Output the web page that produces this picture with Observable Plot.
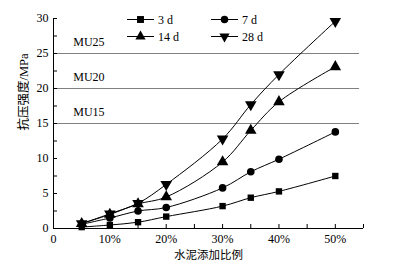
<!DOCTYPE html>
<html><head><meta charset="utf-8">
<script src="https://cdn.jsdelivr.net/npm/d3@7"></script>
<script src="https://cdn.jsdelivr.net/npm/@observablehq/plot@0.6"></script>
<style>
body{margin:0;background:#fff;}
#wrap{position:relative;width:393px;height:268px;}
</style>
</head><body><div id="wrap"></div>
<script>
const ratios = [5, 10, 15, 20, 30, 35, 40, 50];
const s3d  = [0.2, 0.5, 0.9, 1.7, 3.2, 4.4, 5.3, 7.5];
const s7d  = [0.6, 1.5, 2.5, 3.0, 5.8, 8.1, 9.9, 13.8];
const s14d = [0.7, 2.0, 3.5, 4.5, 9.5, 14.0, 18.1, 23.1];
const s28d = [0.7, 2.1, 3.6, 6.3, 12.8, 17.7, 22.0, 29.6];
const seriesNames = ["3 d", "7 d", "14 d", "28 d"];
const seriesSymbols = ["square", "circle", "triangle", "triangle-down"];
const refValues = [25, 20, 15];
const refLabels = ["MU25", "MU20", "MU15"];
const xTicks = [0, 10, 20, 30, 40, 50];
const xMinor = [5, 15, 25, 35, 45, 55];
const yTicks = [0, 5, 10, 15, 20, 25, 30];
const yMinor = [2.5, 7.5, 12.5, 17.5, 22.5, 27.5];
const xTitle = "水泥添加比例";
const yTitle = "抗压强度/MPa";

const allSeries = [s3d, s7d, s14d, s28d];
const data = allSeries.flatMap((arr, i) => arr.map((v, j) => ({x: ratios[j], y: v, s: seriesNames[i], sym: seriesSymbols[i]})));
const refs = refValues.map((v, i) => ({v, label: refLabels[i]}));

const serif = "'Liberation Serif','Times New Roman','Noto Sans CJK SC',serif";
const black = "#000";
const W = 393, H = 268, ML = 53, MR = 30, MT = 18, MB = 40;
const plotW = W - ML - MR, plotH = H - MT - MB, tickLen = 4;

const marks = [
  Plot.ruleY(refs, {y: "v", x1: 0, x2: 54.3, stroke: "#808080", strokeWidth: 1}),
  Plot.text(refs, {y: "v", x: 3.5, text: "label", dy: -11, textAnchor: "start", fontFamily: serif, fontSize: 12, fill: black}),
  Plot.ruleX([0], {stroke: black}),
  Plot.ruleY([0], {stroke: black}),
  Plot.tickX(xTicks.concat(xMinor), {x: d => d, insetTop: plotH - tickLen, stroke: black}),
  Plot.tickY(yTicks.concat(yMinor), {y: d => d, insetRight: plotW - tickLen, stroke: black}),
  Plot.text([xTitle], {text: d => d, frameAnchor: "bottom", dy: 30, fontFamily: "'Noto Sans CJK SC',sans-serif", fontSize: 11.5, fill: black}),
  Plot.text([yTitle], {text: d => d, frameAnchor: "left", dx: -30, dy: 7, rotate: -90, fontFamily: "'Liberation Serif','Noto Sans CJK SC',serif", fontSize: 12.5, fill: black}),
];
for (const name of seriesNames) {
  const sub = data.filter(d => d.s === name);
  marks.push(Plot.line(sub, {x: "x", y: "y", curve: "catmull-rom", stroke: black, strokeWidth: 1}));
}
for (let i = 0; i < seriesNames.length; i++) {
  const sub = data.filter(d => d.s === seriesNames[i]);
  const sym = seriesSymbols[i];
  if (sym === "triangle-down") {
    marks.push(Plot.dot(sub, {x: "x", y: "y", symbol: "triangle", rotate: 180, r: 4.3, fill: black, stroke: "none"}));
  } else if (sym === "triangle") {
    marks.push(Plot.dot(sub, {x: "x", y: "y", symbol: "triangle", r: 4.3, fill: black, stroke: "none"}));
  } else if (sym === "square") {
    marks.push(Plot.dot(sub, {x: "x", y: "y", symbol: "square", r: 3.6, fill: black, stroke: "none"}));
  } else {
    marks.push(Plot.dot(sub, {x: "x", y: "y", symbol: "circle", r: 3.8, fill: black, stroke: "none"}));
  }
}

const chart = Plot.plot({
  width: W, height: H,
  marginLeft: ML, marginRight: MR, marginTop: MT, marginBottom: MB,
  style: {fontFamily: serif, fontSize: "12px", color: black, background: "#fff"},
  x: {type: "linear", domain: [0, 55], ticks: xTicks, tickFormat: d => d === 0 ? "0" : d + "%", tickSize: 0, tickPadding: 6, label: null},
  y: {type: "linear", domain: [0, 30], ticks: yTicks, tickSize: 0, tickPadding: 5, label: null},
  marks
});
const wrap = document.getElementById("wrap");
wrap.appendChild(chart);

// Legend overlay
const leg = d3.select(wrap).append("svg")
  .attr("width", W).attr("height", H)
  .style("position", "absolute").style("left", 0).style("top", 0).style("pointer-events", "none");
const symMap = {square: d3.symbolSquare, circle: d3.symbolCircle, triangle: d3.symbolTriangle, "triangle-down": d3.symbolTriangle};
const symSize = {square: 48, circle: 45, triangle: 45, "triangle-down": 45};
const legOrder = [0, 2, 1, 3];
legOrder.forEach((si, k) => {
  const col = Math.floor(k / 2), row = k % 2;
  const x0 = 127 + col * 84, y0 = 19.5 + row * 17;
  const g = leg.append("g").attr("transform", `translate(${x0},${y0})`);
  g.append("line").attr("x1", 0).attr("x2", 27).attr("y1", 0).attr("y2", 0).attr("stroke", black);
  const sym = seriesSymbols[si];
  g.append("path").attr("d", d3.symbol(symMap[sym], symSize[sym])())
    .attr("transform", `translate(13.5,0)` + (sym === "triangle-down" ? " rotate(180)" : ""))
    .attr("fill", black);
  g.append("text").attr("x", 31).attr("y", 0).attr("dy", "0.35em").text(seriesNames[si])
    .style("font-family", serif).style("font-size", "12px").attr("fill", black);
});
</script>
</body></html>
